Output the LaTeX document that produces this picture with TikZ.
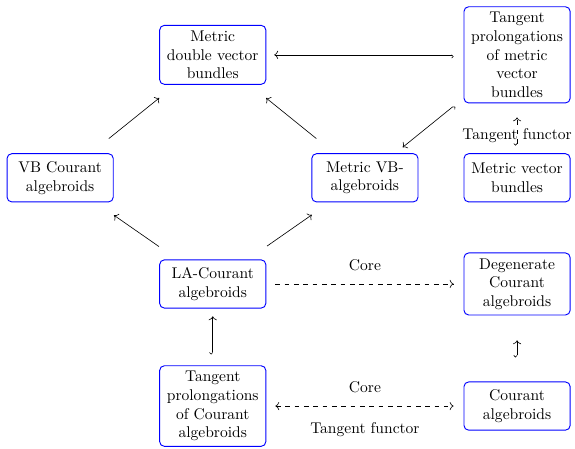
\documentclass[tikz,border=0pt]{standalone}
\usetikzlibrary{arrows.meta}
\begin{document}
\begin{tikzpicture}[box/.style = {draw = blue, line width = .6pt, rounded corners = 3pt, text width = 2.12cm, align = center, minimum width = 2.4cm, minimum height = 1.09cm, inner ysep = 3.5pt},
		incl/.style = {{Hooks[right]}->}]
	\useasboundingbox (0,0) rectangle (13.0,-10.13);
	% top row
	\node[box] (mdvb) at (4.81,-1.24) {Metric double vector bundles};
	\node[box] (tpmvb) at (11.69,-1.24) {Tangent prolongations of metric vector bundles};
	% second row
	\node[box] (vbca) at (1.36,-4.02) {VB Courant algebroids};
	\node[box] (mvba) at (8.25,-4.02) {Metric VB-algebroids};
	\node[box] (mvb) at (11.69,-4.02) {Metric vector bundles};
	% third row
	\node[box] (laca) at (4.81,-6.42) {LA-Courant algebroids};
	\node[box] (dca) at (11.69,-6.42) {Degenerate Courant algebroids};
	% bottom row
	\node[box] (tpca) at (4.81,-9.18) {Tangent prolongations of Courant algebroids};
	\node[box] (ca) at (11.69,-9.18) {Courant algebroids};
	% arrows
	\draw[incl, shorten < = 6.4pt, shorten > = 5.1pt] (tpmvb) -- (mdvb);
	\draw[incl, shorten < = 7.7pt, shorten > = 6.1pt] (tpmvb) -- (mvba);
	\draw[incl, dashed, shorten < = 5pt, shorten > = 9pt] (mvb) -- (tpmvb) node[pos = .35] {Tangent functor};
	\draw[->, shorten < = 15pt, shorten > = 13.5pt] (vbca) -- (mdvb);
	\draw[->, shorten < = 15pt, shorten > = 13.5pt] (mvba) -- (mdvb);
	\draw[->, shorten < = 14.5pt, shorten > = 14.5pt] (laca) -- (vbca);
	\draw[->, shorten < = 15pt, shorten > = 14pt] (laca) -- (mvba);
	\draw[->, dashed, shorten < = 5.8pt, shorten > = 6.4pt] (laca) -- (dca) node[midway, above = 5pt] {Core};
	\draw[incl, shorten < = 7pt, shorten > = 5pt] (tpca) -- (laca);
	\draw[incl, shorten < = 15.5pt, shorten > = 16pt] (ca) -- (dca);
	\draw[<->, dashed, shorten < = 5.8pt, shorten > = 6.4pt] (tpca) -- (ca)
		node[midway, above = 5pt] {Core}
		node[midway, below = 7pt] {Tangent functor};
\end{tikzpicture}
\end{document}
